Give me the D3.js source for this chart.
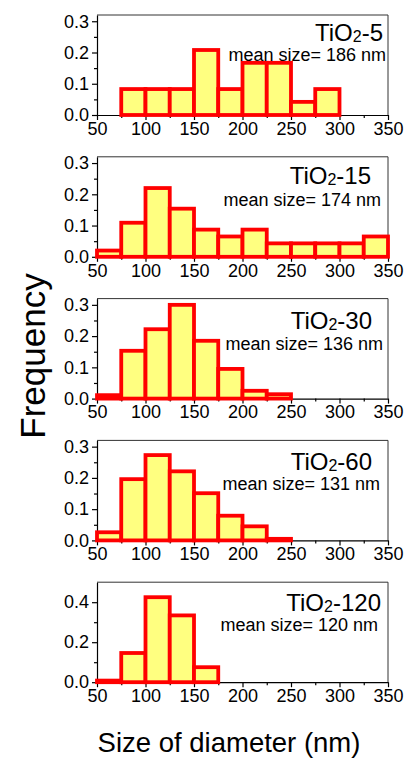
<!DOCTYPE html>
<html>
<head>
<meta charset="utf-8">
<script src="https://cdn.jsdelivr.net/npm/d3@7"></script>
<style>
  html, body { margin: 0; padding: 0; background: #fff; }
  svg { display: block; font-family: "Liberation Sans", Arial, sans-serif; }
</style>
</head>
<body>
<svg id="chart" width="404" height="761"></svg>
<script>
// Particle size distributions of TiO2 samples (bin width 25 nm)
const binStarts = [50, 75, 100, 125, 150, 175, 200, 225, 250, 275, 300, 325];
const binWidth = 25;

const sampleNames = ["5", "15", "30", "60", "120"];
const meanSizes = [186, 174, 136, 131, 120];

const freqTiO2_5   = [0, 0.083, 0.083, 0.083, 0.208, 0.083, 0.167, 0.167, 0.042, 0.083, 0, 0];
const freqTiO2_15  = [0.020, 0.109, 0.220, 0.154, 0.087, 0.065, 0.087, 0.043, 0.043, 0.043, 0.043, 0.065];
const freqTiO2_30  = [0.011, 0.153, 0.222, 0.300, 0.185, 0.095, 0.025, 0.014, 0, 0, 0, 0];
const freqTiO2_60  = [0.026, 0.196, 0.273, 0.221, 0.151, 0.079, 0.045, 0.005, 0, 0, 0, 0];
const freqTiO2_120 = [0.008, 0.146, 0.425, 0.334, 0.075, 0, 0, 0, 0, 0, 0, 0];

const xTicks = [50, 100, 150, 200, 250, 300, 350];
const yMaxes = [0.32, 0.32, 0.32, 0.32, 0.5];
const yTickSets = [
  [0, 0.1, 0.2, 0.3],
  [0, 0.1, 0.2, 0.3],
  [0, 0.1, 0.2, 0.3],
  [0, 0.1, 0.2, 0.3],
  [0, 0.2, 0.4]
];
const yMinorSets = [
  [0.05, 0.15, 0.25],
  [0.05, 0.15, 0.25],
  [0.05, 0.15, 0.25],
  [0.05, 0.15, 0.25],
  [0.1, 0.3]
];
const series = [freqTiO2_5, freqTiO2_15, freqTiO2_30, freqTiO2_60, freqTiO2_120];

// per-panel label placement (right edge and baseline offsets from panel top)
const titleLayout = [
  { x: 383, dy: 26, mx: 386, mdy: 46 },
  { x: 371, dy: 27, mx: 381, mdy: 49 },
  { x: 372, dy: 30, mx: 383, mdy: 51 },
  { x: 372, dy: 30, mx: 380, mdy: 50 },
  { x: 381, dy: 29, mx: 378, mdy: 49 }
];

const FONT = "'Liberation Sans', Arial, sans-serif";
const svg = d3.select("#chart");
const left = 97, right = 388;
const panelTop = 15, panelH = 100, panelStep = 141.8;

const x = d3.scaleLinear().domain([50, 350]).range([left, right]);

series.forEach((vals, i) => {
  const top = panelTop + i * panelStep;
  const bottom = top + panelH;
  const y = d3.scaleLinear().domain([0, yMaxes[i]]).range([bottom, top]);
  const g = svg.append("g");

  // top and right frame lines
  g.append("line").attr("x1", left).attr("x2", right).attr("y1", top).attr("y2", top)
    .attr("stroke", "#333").attr("stroke-width", 1);
  g.append("line").attr("x1", right).attr("x2", right).attr("y1", top).attr("y2", bottom)
    .attr("stroke", "#333").attr("stroke-width", 1);

  // minor ticks
  const xMinor = g.append("g").attr("transform", `translate(0,${bottom})`)
    .call(d3.axisBottom(x).tickValues([75, 125, 175, 225, 275, 325]).tickSize(3).tickFormat(""));
  xMinor.select(".domain").remove();
  const yMinor = g.append("g").attr("transform", `translate(${left},0)`)
    .call(d3.axisLeft(y).tickValues(yMinorSets[i]).tickSize(3).tickFormat(""));
  yMinor.select(".domain").remove();

  // major axes
  const xAxis = g.append("g").attr("transform", `translate(0,${bottom})`)
    .call(d3.axisBottom(x).tickValues(xTicks).tickSize(5).tickPadding(2).tickSizeOuter(0));
  const yAxis = g.append("g").attr("transform", `translate(${left},0)`)
    .call(d3.axisLeft(y).tickValues(yTickSets[i]).tickSize(5).tickPadding(3)
      .tickSizeOuter(0).tickFormat(d3.format(".1f")));
  [xAxis, yAxis, xMinor, yMinor].forEach(a => {
    a.selectAll("line, path").attr("stroke", "#000").attr("stroke-width", 1.2);
    a.selectAll("text").attr("font-size", 18).attr("fill", "#000")
      .attr("font-family", FONT);
  });

  // histogram bars
  const bins = binStarts.map((s, k) => ({ start: s, value: vals[k] })).filter(d => d.value > 0);
  g.append("g").selectAll("rect").data(bins).join("rect")
    .attr("x", d => x(d.start))
    .attr("width", d => x(d.start + binWidth) - x(d.start))
    .attr("y", d => y(d.value))
    .attr("height", d => y(0) - y(d.value))
    .attr("fill", "#ffff80")
    .attr("stroke", "#ff0000")
    .attr("stroke-width", 3.8);

  // sample label with subscript
  const L = titleLayout[i];
  const title = g.append("text")
    .attr("x", L.x).attr("y", top + L.dy)
    .attr("text-anchor", "end").attr("font-size", 24).attr("fill", "#000")
    .attr("font-family", FONT);
  title.append("tspan").text("TiO");
  title.append("tspan").attr("font-size", 16).attr("dy", 1).text("2");
  title.append("tspan").attr("dy", -1).text("-" + sampleNames[i]);

  g.append("text")
    .attr("x", L.mx).attr("y", top + L.mdy)
    .attr("text-anchor", "end").attr("font-size", 18).attr("fill", "#000")
    .attr("font-family", FONT)
    .text(`mean size= ${meanSizes[i]} nm`);
});

// axis titles
svg.append("text")
  .attr("transform", `translate(45,${356}) rotate(-90)`)
  .attr("text-anchor", "middle").attr("font-size", 35).attr("fill", "#000")
  .attr("font-family", FONT)
  .text("Frequency");

svg.append("text")
  .attr("x", 229).attr("y", 752)
  .attr("text-anchor", "middle").attr("font-size", 27.5).attr("fill", "#000")
  .attr("font-family", FONT)
  .text("Size of diameter (nm)");
</script>
</body>
</html>
